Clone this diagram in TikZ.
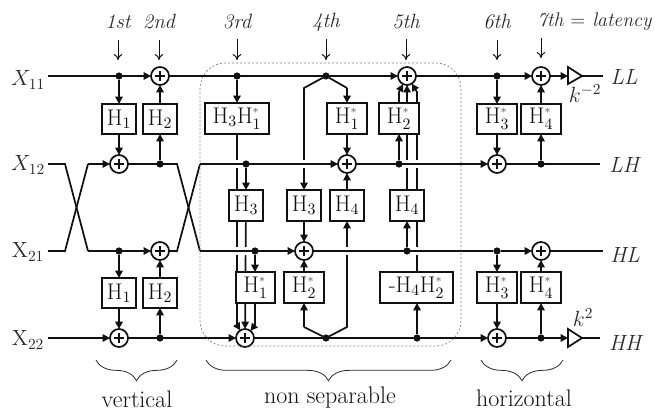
\RequirePackage{fix-cm}
\documentclass[tikz,border=0pt]{standalone}
\usetikzlibrary{arrows.meta,backgrounds,decorations.pathreplacing}
\definecolor{ink}{HTML}{111111}
\definecolor{lab}{HTML}{2A2A2A}
\definecolor{starc}{HTML}{555555}
\newcommand{\st}{^{\raisebox{1.5pt}{$\textcolor{starc}{\scriptscriptstyle *}$}}}
\newcommand{\HH}[1]{\mathrm{H}_{#1}}
\newcommand{\bx}[6]{\node[hbox,minimum width={(#3-#2)*0.75pt},minimum height={(#5-#4)*0.75pt}] (#1) at ({(#2+#3)/2},{(#4+#5)/2}) {$#6$};}
\tikzset{
  px/.style={x=0.75pt,y=-0.75pt},
  hbox/.style={draw=ink,fill=white,line width=1.3pt,inner sep=0pt,outer sep=0pt,text=ink,font=\fontsize{17}{20}\selectfont},
  adder/.style={circle,draw=ink,fill=white,line width=1.3pt,minimum size=13.5pt,inner sep=0pt,outer sep=0pt,
    path picture={\draw[ink,line width=1.2pt] ([xshift=-3.4pt]path picture bounding box.center) -- ([xshift=3.4pt]path picture bounding box.center)
       ([yshift=-3.4pt]path picture bounding box.center) -- ([yshift=3.4pt]path picture bounding box.center);}},
  jdot/.style={circle,fill=ink,minimum size=5.4pt,inner sep=0pt,outer sep=0pt},
  wire/.style={draw=ink,line width=1.3pt,line join=miter},
  arr/.style={wire,-{Triangle[length=5.5pt,width=5.5pt]}},
  halo/.style={preaction={draw=white,line width=6pt}},
  tick/.style={draw=ink,line width=0.75pt,-{To[length=4.5pt,width=6.5pt]}},
  order/.style={text=lab,font=\fontsize{15.5}{18}\selectfont\itshape},
  orderlong/.style={text=lab,font=\fontsize{14.8}{18}\selectfont\itshape},
  xlab/.style={text=lab,font=\fontsize{16.5}{19}\selectfont},
  outlab/.style={text=lab,font=\fontsize{16.5}{19}\selectfont\itshape},
  grp/.style={text=ink,font=\fontsize{18}{21}\selectfont},
  curly/.style={draw=lab,line width=0.6pt,decorate,decoration={brace,mirror,amplitude=15.5pt,aspect=0.5}},
  gtri/.style={draw=ink,fill=white,line width=1.3pt,line join=miter},
}
\begin{document}
\begin{tikzpicture}[px]
\useasboundingbox (0,0) rectangle (655,414);
% --- named points
\foreach \n/\x/\y in {s1/48/76,s2/48/164,s3/48/251,s4/48/338,
  cl2/65/164,cl3/65/251,cr2/88/164,cr3/88/251,
  dl2/177/164,dl3/177/251,dr2/200/164,dr3/200/251,
  e1/603/76,e2/600/164,e3/603/251,e4/600/338,
  ja/237/325,jb/255/325,
  l4a/304/88,r4a/347/88,l4b/304/327,r4b/347/327,
  ka/399/92,kb/417/92,
  t1l/568/76,t1a/568/67,t1b/568/84,t1r/582/76,
  t4l/568/338,t4a/568/329,t4b/568/347,t4r/582/338,
  b1a/96/360,b1b/177/360,b2a/206/360,b2b/451/360,b3a/481/360,b3b/563/360,
  fa/118/40,fb/118/60,ga/159/40,gb/159/60,ha/237/39,hb/237/60,ia/326/39,ib/326/60,
  ma/406/39,mb/406/60,na/497/40,nb/497/60,oa/541/38,ob/541/58}
  {\coordinate (\n) at (\x,\y);}
% --- labels
\node[order] (o1) at (118,22) {1st};
\node[order] (o2) at (159,22) {2nd};
\node[order] (o3) at (237,22) {3rd};
\node[order] (o4) at (326,22) {4th};
\node[order] (o5) at (406,22) {5th};
\node[order] (o6) at (497,22) {6th};
\node[orderlong,anchor=west,inner sep=0pt] (o7) at (537,22) {7th {\upshape=} latency};
\node[xlab] (x11) at (28,80) {$X_{11}$};
\node[xlab] (x12) at (28,165) {$X_{12}$};
\node[xlab] (x21) at (28,252) {$\mathrm{X}_{21}$};
\node[xlab] (x22) at (28,340) {$\mathrm{X}_{22}$};
\node[outlab] (ll) at (624,77) {LL};
\node[outlab] (lh) at (624,165) {LH};
\node[outlab] (hl) at (625,255) {HL};
\node[outlab] (hh) at (625,343) {HH};
\node[outlab] (km) at (585,94) {$k^{-2}$};
\node[outlab] (kp) at (583,318) {$k^{2}$};
\node[grp] (gv) at (137,399) {vertical};
\node[grp] (gn) at (330,398) {non separable};
\node[grp] (gh) at (524,398) {horizontal};
% --- boxes
\bx{a1}{102}{136}{104}{134}{\HH1}
\bx{a2}{143}{177}{104}{134}{\HH2}
\bx{b1}{102}{136}{278}{308}{\HH1}
\bx{b2}{143}{177}{278}{308}{\HH2}
\bx{c1}{205}{269}{103}{134}{\HH3\HH1\st}
\bx{c2}{229}{263}{190}{221}{\HH3}
\bx{c3}{236}{275}{272}{303}{\HH1\st}
\bx{d1}{287}{321}{190}{221}{\HH3}
\bx{d2}{284}{324}{272}{303}{\HH2\st}
\bx{d3}{327}{367}{103}{134}{\HH1\st}
\bx{d4}{330}{364}{190}{221}{\HH4}
\bx{f1}{379}{419}{103}{134}{\HH2\st}
\bx{f2}{390}{424}{190}{221}{\HH4}
\bx{f3}{380}{453}{272}{303}{\mbox{-}\HH4\HH2\st}
\bx{g1}{477}{517}{104}{134}{\HH3\st}
\bx{g2}{521}{561}{104}{134}{\HH4\st}
\bx{g3}{477}{517}{272}{303}{\HH3\st}
\bx{g4}{521}{561}{272}{303}{\HH4\st}
% --- adders
\foreach \n/\x/\y in {p1/160/76,p2/119/164,p3/160/251,p4/119/338,
  q1/407/76,q2/347/164,q3/304/251,q4/245/338,
  r1/541/76,r2/497/164,r3/541/251,r4/497/338}
  {\node[adder] (\n) at (\x,\y) {};}
% --- junction dots
\foreach \n/\x/\y in {j11/119/76,j12/160/164,j13/119/251,j14/160/338,
  j21/237/76,j22/246/164,j23/255/251,
  j31/326/76,j34/326/338,
  j41/399/164,j42/407/251,j43/417/338,
  j51/497/76,j52/541/164,j53/497/251,j54/541/338}
  {\node[jdot] (\n) at (\x,\y) {};}
% --- amplifiers
\draw[gtri] (t1a) -- (t1r) -- (t1b) -- cycle;
\draw[gtri] (t4a) -- (t4r) -- (t4b) -- cycle;
% --- dashed group
\draw[gray,line width=0.5pt,dash pattern=on 1.5pt off 1.5pt,rounded corners=19pt] (200,63) rectangle (461,346);
% --- timing arrows
\draw[tick] (fa) -- (fb);
\draw[tick] (ga) -- (gb);
\draw[tick] (ha) -- (hb);
\draw[tick] (ia) -- (ib);
\draw[tick] (ma) -- (mb);
\draw[tick] (na) -- (nb);
\draw[tick] (oa) -- (ob);
% --- braces
\draw[curly] (b1a) -- (b1b);
\draw[curly] (b2a) -- (b2b);
\draw[curly] (b3a) -- (b3b);
% --- wires
\begin{scope}[on background layer]
  % verticals that are crossed by rows
  \draw[arr] (c1) -- (ja) -- (q4);
  \draw[arr] (c2) -- (q4);
  \draw[arr] (c3.south -| jb) -- (jb) -- (q4);
  \draw[arr] (j31) -- (l4a) -- (d1.north -| l4a);
  \draw[arr] (j34) -- (r4b) -- (d4.south);
  \draw[arr] (f2.north -| q1) -- (q1);
  \draw[arr] (f3.north -| kb) -- (kb) -- (q1);
  % rows with crossing gaps
  \draw[arr,halo] (dr2) -- (q2);
  \draw[arr,halo] (q2) -- (r2);
  \draw[arr,halo] (dr3) -- (q3);
  \draw[wire,halo] (q3) -- (j53);
  % remaining rows
  \draw[arr] (s1) -- (p1);
  \draw[arr] (p1) -- (q1);
  \draw[arr] (q1) -- (r1);
  \draw[arr] (r1) -- (t1l);
  \draw[wire] (t1r) -- (e1);
  \draw[wire] (s2) -- (cl2) -- (cr3);
  \draw[arr] (cr3) -- (p3);
  \draw[wire] (s3) -- (cl3) -- (cr2);
  \draw[arr] (cr2) -- (p2);
  \draw[wire] (p2) -- (dl2) -- (dr3);
  \draw[wire] (p3) -- (dl3) -- (dr2);
  \draw[arr] (s4) -- (p4);
  \draw[arr] (p4) -- (q4);
  \draw[arr] (q4) -- (r4);
  \draw[arr] (r4) -- (t4l);
  \draw[wire] (t4r) -- (e4);
  \draw[wire] (r2) -- (e2);
  \draw[arr] (j53) -- (r3);
  \draw[wire] (r3) -- (e3);
  % vertical filter stages
  \draw[arr] (j11) -- (a1);
  \draw[arr] (a1) -- (p2);
  \draw[arr] (j12) -- (a2);
  \draw[arr] (a2) -- (p1);
  \draw[arr] (j13) -- (b1);
  \draw[arr] (b1) -- (p4);
  \draw[arr] (j14) -- (b2);
  \draw[arr] (b2) -- (p3);
  % non separable stages
  \draw[arr] (j21) -- (c1);
  \draw[arr] (j22) -- (c2);
  \draw[arr] (j23) -- (c3.north -| j23);
  \draw[wire] (j31) -- (r4a);
  \draw[arr] (r4a) -- (d3);
  \draw[arr] (d3) -- (q2);
  \draw[arr] (d4) -- (q2);
  \draw[arr] (d1) -- (q3);
  \draw[arr] (d2) -- (q3);
  \draw[wire] (j34) -- (l4b);
  \draw[arr] (l4b) -- (d2.south -| l4b);
  \draw[arr] (j41) -- (f1.south -| j41);
  \draw[arr] (f1.north -| ka) -- (ka) -- (q1);
  \draw[arr] (j42) -- (f2.south -| j42);
  \draw[arr] (j43) -- (f3.south -| j43);
  % horizontal stages
  \draw[arr] (j51) -- (g1);
  \draw[arr] (g1) -- (r2);
  \draw[arr] (j52) -- (g2);
  \draw[arr] (g2) -- (r1);
  \draw[arr] (j53) -- (g3);
  \draw[arr] (g3) -- (r4);
  \draw[arr] (j54) -- (g4);
  \draw[arr] (g4) -- (r3);
\end{scope}
\end{tikzpicture}
\end{document}
